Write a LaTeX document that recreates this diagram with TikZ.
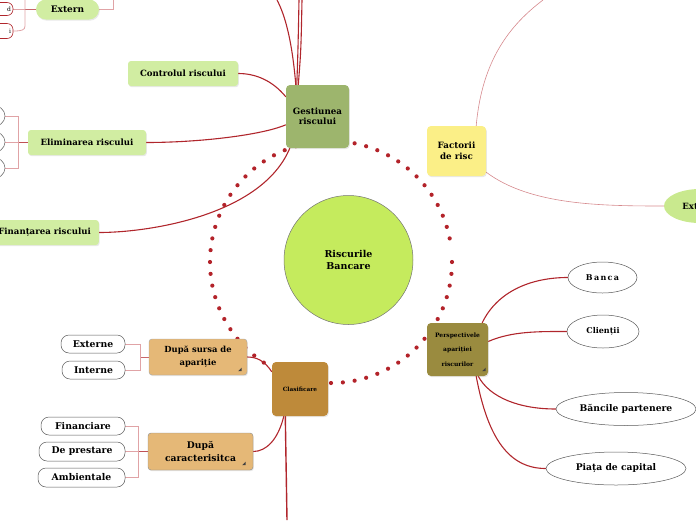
\documentclass[tikz,border=0pt]{standalone}
\usepackage{fontspec}
\setmainfont{DejaVu Serif}
\usetikzlibrary{shapes.geometric,shadows,calc}
\definecolor{linered}{HTML}{B0262C}
\definecolor{pinkline}{HTML}{E0A3A6}
\definecolor{thinred}{HTML}{D68A8E}
\definecolor{dotred}{HTML}{B3232A}
\definecolor{gestfill}{HTML}{9DB56D}
\definecolor{lightgreen}{HTML}{D1EDA2}
\definecolor{factfill}{HTML}{FBEF87}
\definecolor{centerfill}{HTML}{C5EB5D}
\definecolor{perspfill}{HTML}{9A8B3F}
\definecolor{clasfill}{HTML}{BE8A3A}
\definecolor{tanfill}{HTML}{E5B877}
\definecolor{rightgreen}{HTML}{C9E98E}
\pgfdeclarelayer{bg}
\pgfsetlayers{bg,main}
\tikzset{
  shade box/.style={drop shadow={opacity=0.18,shadow xshift=0.8pt,shadow yshift=-1.2pt}},
  topicbox/.style={rectangle,rounded corners=4pt,inner sep=2pt,align=center,shade box,
     font=\fontsize{8.7}{10.5}\selectfont\bfseries},
  subbox/.style={rectangle,rounded corners=3pt,inner sep=2pt,align=center,shade box,
     font=\fontsize{8.6}{10}\selectfont\bfseries},
  pill/.style={rectangle,rounded corners=8pt,draw=black!65,line width=0.5pt,fill=white,
     inner sep=1pt,font=\fontsize{9.3}{10}\selectfont\bfseries},
  oval/.style={ellipse,draw=black!65,line width=0.5pt,fill=white,inner sep=0pt,
     font=\fontsize{8}{10}\selectfont\bfseries},
  mainlink/.style={draw=linered,line width=1.1pt},
  thinlink/.style={draw=thinred,line width=0.6pt},
  bracket/.style={draw=pinkline,line width=0.8pt},
  ringdot/.style={fill=dotred},
  marker/.style={fill=black!75},
}
\begin{document}
\begin{tikzpicture}[x=1pt,y=-1pt]
\useasboundingbox (0,0) rectangle (696,520);
\clip (0,0) rectangle (696,520);

% ---------- nodes ----------
\node[topicbox,fill=gestfill,minimum width=63pt,minimum height=63pt] (gest) at (317.5,116.5) {Gestiunea\\riscului};
\node[subbox,fill=lightgreen,minimum width=110pt,minimum height=25pt] (ctrl) at (183,73.5) {Controlul riscului};
\node[subbox,fill=lightgreen,rounded corners=10pt,minimum width=63pt,minimum height=20pt,
      font=\fontsize{9}{10}\selectfont\bfseries] (extern) at (67.5,9.5) {Extern};
\node[rectangle,rounded corners=6pt,draw=linered,line width=0.6pt,fill=white,minimum width=54pt,minimum height=13pt,
      inner sep=0pt,font=\fontsize{6}{7}\selectfont,align=right,text width=50pt] (exa) at (-14,9) {d};
\node[rectangle,rounded corners=6pt,draw=linered,line width=0.6pt,fill=white,minimum width=54pt,minimum height=15pt,
      inner sep=0pt,font=\fontsize{6}{7}\selectfont,align=right,text width=50pt] (exb) at (-14,31) {i};
\node[subbox,fill=lightgreen,minimum width=118pt,minimum height=25pt] (elim) at (87,142.5) {Eliminarea riscului};
\node[ellipse,draw=black!65,fill=white,line width=0.5pt,minimum width=26pt,minimum height=22pt] (ela) at (-8,116) {};
\node[ellipse,draw=black!65,fill=white,line width=0.5pt,minimum width=26pt,minimum height=22pt] (elb) at (-8,142) {};
\node[ellipse,draw=black!65,fill=white,line width=0.5pt,minimum width=26pt,minimum height=22pt] (elc) at (-8,168) {};
\node[subbox,fill=lightgreen,minimum height=25pt,inner xsep=8pt,anchor=east] (finan) at (99,232.5) {Finanțarea riscului};

\node[topicbox,fill=factfill,minimum width=59pt,minimum height=50pt] (fact) at (456.5,151) {Factorii\\de risc};
\node[ellipse,fill=rightgreen,minimum width=72pt,minimum height=34pt,inner sep=0pt,
      font=\fontsize{8.6}{10}\selectfont\bfseries] (exr) at (700,206) {Externi};

\node[circle,draw=black!55,line width=0.5pt,fill=centerfill,minimum size=129pt,align=center,
      font=\fontsize{9.5}{12}\selectfont\bfseries] (center) at (348.5,260) {Riscurile\\Bancare};

\node[topicbox,fill=perspfill,minimum width=61pt,minimum height=53pt,
      font=\fontsize{6}{14.5}\selectfont\bfseries] (persp) at (457.5,349.5) {Perspectivele\\apariției\\riscurilor};
\node[oval,minimum width=69pt,minimum height=31pt] (banca) at (602.5,277.5) {B\,a\,n\,c\,a};
\node[oval,minimum width=72pt,minimum height=33pt] (clienti) at (603,331.5) {Clienții};
\node[oval,minimum width=140pt,minimum height=33pt,font=\fontsize{9.2}{10}\selectfont\bfseries] (bancile) at (626,409) {Băncile partenere};
\node[oval,minimum width=140pt,minimum height=33pt,font=\fontsize{9.2}{10}\selectfont\bfseries] (piata) at (616,468.5) {Piața de capital};

\node[topicbox,fill=clasfill,minimum width=56pt,minimum height=54pt,
      font=\fontsize{5.8}{7}\selectfont\bfseries] (clasif) at (300,389) {Clasificare};
\node[subbox,fill=tanfill,draw=black!35,line width=0.4pt,minimum width=98pt,minimum height=36pt,
      font=\fontsize{8.4}{13}\selectfont\bfseries] (dsursa) at (198,357) {După sursa de\\apariție};
\node[subbox,fill=tanfill,draw=black!45,line width=0.4pt,minimum width=105pt,minimum height=37pt,
      font=\fontsize{9.2}{13}\selectfont\bfseries] (dcar) at (200.5,451.5) {După\\caracterisitca};

\node[pill,minimum width=64pt,minimum height=18pt] (externe) at (93,344) {Externe};
\node[pill,minimum width=63pt,minimum height=18pt] (interne) at (93.5,370) {Interne};
\node[pill,minimum width=84pt,minimum height=18pt] (financ) at (83,426) {Financiare};
\node[pill,minimum width=86pt,minimum height=19pt] (deprest) at (82,451.5) {De prestare};
\node[pill,minimum width=87pt,minimum height=19pt] (ambient) at (81.5,477.5) {Ambientale};

% small expand markers
\fill[marker] ($(dsursa.south east)+(-9,-4)$) -- ++(3.5,0) -- ++(0,-3.5) -- cycle;
\fill[marker] ($(dcar.south east)+(-11,-5)$) -- ++(3.5,0) -- ++(0,-3.5) -- cycle;
\fill[marker] ($(persp.south east)+(-6,-5)$) -- ++(3.5,0) -- ++(0,-3.5) -- cycle;

% free ends
\coordinate (topa) at (299,0);
\coordinate (topb) at (302,0);
\coordinate (topc) at (277,0);
\coordinate (topext) at (113,0);
\coordinate (topbr) at (25,0);
\coordinate (topfact) at (543,0);
\coordinate (bottomcl) at (287,520);
\coordinate (ringc) at (331,262);

% ---------- connectors ----------
\begin{pgfonlayer}{bg}
\clip (0,0) rectangle (696,520);
\foreach \a in {0,5.625,...,354} {
  \fill[ringdot] ($(ringc)+(\a:121)$) circle[radius=2.1pt];
}

% Gestiunea
\draw[mainlink] ($(gest.north west)+(11,0)$) .. controls (298,50) .. (topa);
\draw[mainlink] ($(gest.north west)+(12.5,0)$) .. controls (301,50) .. (topb);
\draw[mainlink] ($(gest.north west)+(10,0)$) .. controls (292,40) and (285,15) .. (topc);
\draw[mainlink] ($(gest.north west)+(0,12)$) .. controls (272,80) and (255,73.5) .. (ctrl.east);
\draw[mainlink] ($(gest.north west)+(0,40)$) .. controls (262,135) and (200,142.5) .. (elim.east);
\draw[mainlink] ($(gest.south west)+(4,0)$) .. controls (262,215) and (150,232.5) .. (finan.east);

% Extern
\draw[bracket] (extern.east) -- (113,9.5) -- (topext);
\draw[linered!70,line width=0.8pt] (extern.west) -- (25,9.5);
\draw[bracket] (topbr) -- (25,26) .. controls (25,30) and (22,31) .. (exb.east);
\draw[bracket] (25,9) -- (exa.east);

% Eliminarea bracket
\draw[linered!80,line width=0.8pt] (elim.west) -- (18,142.5);
\draw[bracket] (ela.east) -- (18,116) -- (18,168) -- (elc.east);
\draw[bracket] (18,142) -- (elb.east);

% Factorii
\draw[thinlink] ($(fact.north east)+(-10,0)$) .. controls (482,60) and (510,25) .. (topfact);
\draw[thinlink] ($(fact.south east)+(0,-4)$) .. controls (530,205) and (600,206) .. (exr.west);

% Perspectivele
\draw[mainlink] ($(persp.north east)+(-6,0)$) .. controls (497,292) and (530,277.5) .. (banca.west);
\draw[mainlink] ($(persp.east)+(0,-8)$) .. controls (512,331) and (540,331.5) .. (clienti.west);
\draw[mainlink] ($(persp.south east)+(-10,0)$) .. controls (490,398) and (520,409) .. (bancile.west);
\draw[mainlink] ($(persp.south east)+(-12,0)$) .. controls (488,440) and (510,468.5) .. (piata.west);

% Clasificare
\draw[mainlink] ($(clasif.north west)+(0,10)$) .. controls (264,360) and (256,357) .. (dsursa.east);
\draw[mainlink] ($(clasif.south west)+(12,0)$) .. controls (278,440) and (266,451.5) .. (dcar.east);
\draw[linered,line width=1.4pt] ($(clasif.south west)+(13.5,0)$) .. controls (286,460) .. (bottomcl);

% Dupa sursa bracket
\draw[linered!70,line width=0.8pt] (dsursa.west) -- (140,357);
\draw[bracket] (externe.east) -- (140,344) -- (140,370) -- (interne.east);
% Dupa caracteristica bracket
\draw[linered!80,line width=0.8pt] (dcar.west) -- (138,451.5);
\draw[bracket] (financ.east) -- (138,426) -- (138,477.5) -- (ambient.east);
\draw[bracket] (138,451.5) -- (deprest.east);
\end{pgfonlayer}
\end{tikzpicture}
\end{document}
